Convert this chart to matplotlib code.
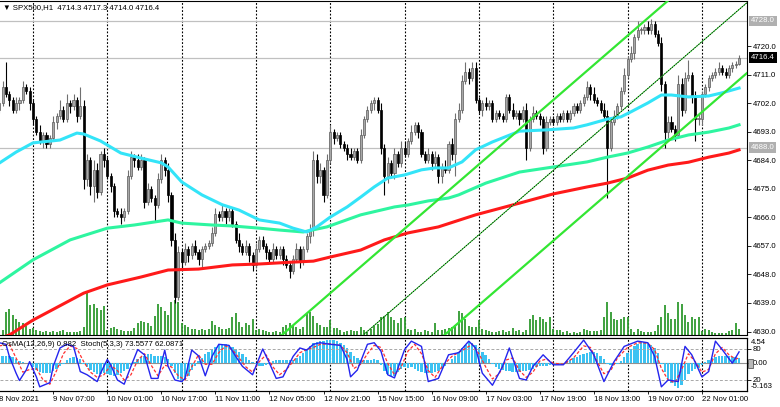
import numpy as np
import matplotlib.pyplot as plt
from matplotlib.transforms import blended_transform_factory as blend
from matplotlib.patches import Rectangle

plt.rcParams['font.family'] = ['Liberation Sans', 'DejaVu Sans']
FS = 5.6

# ---- SPX500 H1, 8 Nov 13:00 .. 22 Nov 12:00 (bars 01:00-22:00 each day) ----
day_names = ['8 Nov', '9 Nov', '10 Nov', '11 Nov', '12 Nov', '15 Nov',
             '16 Nov', '17 Nov', '18 Nov', '19 Nov', '22 Nov']

first_open = 4700.0
close = [
    4702, 4707, 4705, 4703, 4700, 4702, 4703, 4707, 4706, 4702,
    4697, 4693, 4690, 4692, 4689, 4691, 4696, 4698, 4700, 4697, 4702, 4701,
    4703, 4698, 4701, 4678, 4684, 4676, 4681, 4674, 4686, 4684,
    4679, 4676, 4668, 4667, 4666, 4668, 4679, 4685, 4684, 4682, 4684, 4671,
    4675, 4672, 4670, 4678, 4684, 4681, 4673, 4659, 4641, 4655,
    4652, 4656, 4654, 4657, 4655, 4653, 4656, 4657, 4658, 4661, 4667, 4666,
    4668, 4666, 4668, 4664, 4659, 4657, 4655, 4657, 4654, 4651,
    4656, 4659, 4657, 4655, 4653, 4656, 4654, 4656, 4653, 4651, 4649, 4653,
    4656, 4652, 4656, 4660, 4662, 4684, 4679, 4681, 4673, 4684,
    4693, 4691, 4692, 4689, 4688, 4686, 4685, 4687, 4684, 4692, 4697, 4700,
    4702, 4703, 4700, 4688, 4679, 4683, 4680, 4686, 4683, 4688,
    4686, 4690, 4693, 4695, 4693, 4686, 4684, 4686, 4683, 4685, 4679, 4682,
    4681, 4689, 4686, 4697, 4700, 4709, 4712, 4710, 4713, 4703,
    4700, 4702, 4701, 4702, 4697, 4699, 4698, 4697, 4704, 4700, 4698, 4699,
    4697, 4700, 4688, 4697, 4699, 4698, 4697, 4688, 4696, 4697,
    4696, 4698, 4697, 4699, 4697, 4699, 4701, 4700, 4702, 4704, 4707, 4705,
    4703, 4702, 4700, 4698, 4688, 4696, 4698, 4701, 4706, 4711,
    4716, 4718, 4723, 4725, 4725, 4726, 4725, 4727, 4724, 4721, 4708, 4693,
    4696, 4694, 4692, 4708, 4700, 4710, 4711, 4704, 4697, 4697,
    4705, 4707, 4710, 4711, 4712, 4713, 4712, 4711, 4713, 4714, 4714.3, 4716.4,
]
wick_up = [
    1, 2, 8, 1, 1, 2, 1, 2, 1, 1,
    1, 1, 2, 1, 1, 1, 2, 1, 3, 1, 3, 1, 2, 1, 6, 2, 2, 1, 3, 2, 1, 2,
    1, 1, 1, 1, 2, 1, 2, 2, 1, 2, 2, 1, 2, 1, 1, 2, 2, 1, 2, 1, 2, 2,
    1, 2, 1, 1, 2, 1, 1, 1, 1, 2, 2, 1, 2, 1, 1, 1, 1, 2, 1, 2, 1, 1,
    2, 1, 1, 1, 1, 2, 1, 1, 1, 1, 1, 1, 2, 1, 1, 1, 2, 3, 2, 2, 1, 2,
    2, 1, 1, 1, 1, 1, 2, 1, 1, 2, 1, 1, 1, 1, 1, 2, 1, 2, 1, 2, 1, 2,
    2, 1, 2, 1, 1, 1, 1, 2, 1, 2, 1, 1, 2, 1, 2, 2, 2, 2, 3, 1, 2, 2,
    1, 1, 2, 1, 1, 1, 1, 1, 1, 1, 2, 1, 1, 1, 2, 1, 2, 1, 1, 1, 2, 1,
    1, 1, 1, 1, 1, 1, 1, 1, 1, 1, 2, 1, 2, 1, 1, 2, 2, 1, 2, 1, 1, 2,
    1, 2, 1, 3, 1, 1, 2, 1.5, 1, 1, 2, 1, 2, 2, 1, 3, 2, 2, 4.5, 1, 2, 2,
    1, 1, 1, 1, 1, 2, 1, 1, 1, 1, 1, 0.9,
]
wick_dn = [
    1, 1, 1, 2, 1, 1, 2, 1, 1, 2,
    2, 1, 1, 2, 1, 1, 1, 2, 1, 1, 1, 2, 1, 2, 1, 3, 2, 3, 5, 2, 1, 2,
    1, 2, 2, 1, 2, 1, 1, 1, 2, 1, 1, 2, 1, 1, 5, 1, 1, 2, 2, 2, 2, 1,
    2, 1, 2, 1, 1, 2, 3, 1, 1, 1, 1, 1, 1, 2, 1, 1, 1, 2, 1, 1, 2, 2,
    1, 1, 1, 2, 1, 1, 1, 1, 2, 1, 2, 1, 1, 2, 1, 1, 2, 2, 2, 2, 2, 1,
    1, 2, 1, 1, 1, 2, 1, 1, 1, 1, 1, 1, 1, 2, 1, 2, 6, 2, 1, 2, 1, 1,
    1, 1, 1, 1, 2, 1, 1, 1, 2, 1, 2, 2, 1, 1, 2, 7, 1, 1, 1, 2, 1, 1,
    1, 2, 1, 1, 1, 1, 1, 1, 1, 1, 1, 1, 2, 1, 4, 1, 1, 1, 2, 2, 1, 1,
    1, 1, 1, 1, 1, 1, 1, 1, 1, 1, 1, 2, 1, 1, 1, 1, 16, 1, 1, 1, 1, 1,
    1, 1, 2, 1, 1, 1, 1, 1, 1, 1, 2, 5, 2, 1, 2, 1, 2, 1, 1, 2, 7, 2,
    2, 1, 1, 1, 1, 1, 1, 1, 1, 1, 1, 0.3,
]
volume = [
    4, 5, 23, 26, 20, 16, 13, 12, 9, 6,
    7, 5, 4, 3, 4, 3, 4, 3, 4, 5, 3, 3, 3, 3, 4, 8, 42, 30, 31, 27, 25, 29,
    5, 7, 8, 6, 5, 4, 4, 4, 7, 12, 14, 13, 12, 9, 19, 31, 28, 24, 20, 33, 35, 33,
    12, 10, 8, 6, 6, 5, 6, 5, 6, 14, 10, 8, 6, 6, 7, 18, 22, 13, 8, 12, 10, 16,
    5, 6, 5, 4, 3, 3, 4, 3, 8, 10, 12, 9, 8, 6, 8, 22, 23, 19, 12, 10, 8, 8,
    15, 7, 7, 5, 3, 4, 5, 4, 4, 8, 5, 3, 6, 9, 11, 18, 19, 23, 18, 15, 12, 17,
    18, 6, 5, 6, 3, 3, 5, 4, 3, 12, 5, 5, 6, 7, 8, 10, 24, 22, 16, 9, 8, 8,
    15, 6, 5, 4, 3, 3, 4, 5, 3, 4, 7, 4, 5, 3, 5, 16, 20, 15, 18, 16, 13, 18,
    6, 5, 5, 3, 4, 2, 3, 2, 3, 6, 5, 4, 4, 4, 5, 18, 33, 23, 16, 15, 16, 18,
    18, 6, 3, 6, 4, 3, 3, 3, 4, 10, 18, 30, 22, 16, 16, 33, 31, 20, 13, 18, 16, 18,
    4, 6, 5, 3, 2, 2, 2, 2, 4, 5, 12, 6,
]

# moving averages (bar index, price)
ma_cyan_bar = [0, 5, 10, 18, 23, 25, 30, 36, 42, 48, 50, 54, 60, 66, 71, 77, 83, 87,
               91, 94, 98, 103, 107, 111, 115, 120, 125, 129, 133, 137, 141, 146,
               154, 162, 170, 174, 180, 184, 187, 192, 196, 199, 204, 210, 214, 219]
ma_cyan_val = [4683.1, 4686.6, 4689.5, 4690.4, 4692.6, 4692.3, 4690.1, 4686.3, 4684.7,
               4683.2, 4681.9, 4677.2, 4673.1, 4670.0, 4668.3, 4665.2, 4664.2, 4662.6,
               4661.4, 4663.0, 4666.1, 4669.3, 4672.4, 4675.6, 4678.4, 4679.4, 4681.0,
               4681.6, 4681.6, 4683.5, 4687.3, 4689.8, 4693.2, 4693.6, 4694.2, 4695.2,
               4697.0, 4697.7, 4699.3, 4702.1, 4704.6, 4704.6, 4704.0, 4704.3, 4705.3, 4706.8]
ma_green_bar = [0, 10, 21, 32, 40, 50, 54, 63, 69, 77, 83, 90, 97, 107, 117, 121, 127,
                133, 136, 144, 154, 164, 174, 180, 186, 192, 198, 204, 210, 216, 219]
ma_green_val = [4645.3, 4652.6, 4658.9, 4662.6, 4663.6, 4665.2, 4664.2, 4663.6, 4663.3,
                4662.6, 4662.0, 4661.4, 4663.0, 4666.8, 4669.3, 4669.9, 4671.2, 4672.1,
                4673.1, 4676.8, 4680.3, 4681.9, 4683.5, 4685.0, 4686.3, 4688.2, 4690.4,
                4692.0, 4692.9, 4694.2, 4695.2]
ma_red_bar = [0, 3, 10, 25, 32, 42, 50, 59, 69, 77, 87, 93, 98, 107, 114, 121, 130, 141,
              154, 164, 174, 180, 186, 192, 198, 204, 210, 216, 219]
ma_red_val = [4627.8, 4628.9, 4633.6, 4642.1, 4644.7, 4647.2, 4649.4, 4649.7, 4651.0,
              4651.3, 4651.9, 4652.2, 4653.5, 4655.7, 4658.9, 4661.1, 4663.0, 4666.8,
              4670.5, 4673.4, 4675.6, 4676.8, 4678.4, 4680.9, 4682.5, 4683.4, 4685.0,
              4686.3, 4687.3]

# equidistant channel: upper line anchors + parallel offsets
chan_bar = [84, 198]
chan_upper = [4629.2, 4734.4]
chan_offset = [0.0, -22.2, -44.4]

h_levels = [4728.0, 4716.4, 4688.0]

# OsMA(12,26,9)
osma = [
    1.2, 1.3, 1.3, 1.2, 1.0, 0.6, 0.3, 0.1, -0.1, -0.3,
    -0.8, -1.3, -1.7, -1.9, -2.0, -1.9, -1.6, -1.2, -0.7, -0.2, 0.4, 0.8,
    1.0, 0.9, 0.6, -0.3, -0.9, -1.4, -1.8, -2.1, -2.2, -2.0,
    -2.1, -2.3, -2.4, -2.3, -2.0, -1.6, -1.1, -0.5, 0.1, 0.6, 1.0, 1.3,
    1.5, 1.5, 1.3, 1.2, 1.2, 1.0, 0.6, -0.6, -2.0, -3.1,
    -3.6, -3.2, -2.4, -1.4, -0.6, 0.2, 0.9, 1.5, 2.0, 2.5, 2.9, 3.2,
    3.4, 3.4, 3.2, 2.9, 2.5, 2.0, 1.5, 1.0, 0.5, 0.1,
    -0.3, -0.6, -0.7, -0.5, -0.2, 0.2, 0.4, 0.5, 0.5, 0.4, 0.4, 0.5,
    0.8, 1.2, 1.7, 2.3, 3.0, 3.6, 3.8, 3.9, 4.0, 4.1,
    4.2, 4.1, 3.9, 3.6, 3.2, 2.6, 1.9, 1.3, 0.8, 0.5, 0.4, 0.4,
    0.5, 0.6, 0.5, -0.4, -1.5, -2.2, -2.5, -2.4, -1.8, -1.2,
    -0.9, -1.0, -0.9, -1.1, -1.5, -1.8, -2.0, -2.0, -1.9, -1.8, -1.6, -1.2,
    -0.7, -0.1, 0.6, 1.3, 2.0, 2.7, 3.3, 3.8, 3.7, 3.2,
    2.6, 2.0, 1.4, 0.7, -0.2, -0.8, -1.2, -1.4, -1.5, -1.6, -1.7, -1.8,
    -1.7, -1.5, -1.6, -1.4, -1.1, -0.8, -0.6, -0.6, -0.7, -0.5,
    -0.3, -0.2, -0.1, 0.0, 0.2, 0.4, 0.8, 1.1, 1.4, 1.6, 1.8, 1.9,
    1.9, 1.7, 1.3, 0.6, -0.3, -0.5, -0.4, -0.2, 0.3, 1.0,
    1.8, 2.5, 3.1, 3.5, 3.8, 3.8, 3.6, 3.2, 2.6, 1.7, -0.2, -1.8,
    -3.0, -3.8, -4.4, -4.7, -4.2, -3.2, -2.2, -1.5, -1.2, -1.0,
    -0.5, 0.1, 0.5, 0.8, 1.0, 1.2, 1.3, 1.3, 1.2, 1.1, 1.0, 0.882,
]

# Stochastic(5,3,3): main and signal (bar index, value)
stoch_bar = [0, 2, 3, 5, 6, 8, 9, 11, 12, 15, 16, 18, 20, 22, 24, 26, 29, 30, 32, 33,
             35, 37, 39, 41, 43, 45, 47, 49, 50, 52, 54, 55, 57, 59, 61, 63, 65, 68,
             70, 72, 75, 78, 80, 82, 84, 87, 89, 91, 93, 95, 98, 101, 103, 104, 106,
             109, 111, 113, 115, 117, 120, 122, 125, 127, 130, 133, 136, 139, 141,
             143, 146, 149, 151, 154, 156, 158, 161, 163, 164, 167, 170, 173, 176,
             179, 182, 185, 189, 192, 194, 196, 198, 201, 203, 205, 208, 210, 212,
             214, 217, 219]
stoch_main = [91, 88, 65, 33, 19, 39, 55, 26, 7, 15, 46, 81, 88, 84, 36, 30, 17, 33, 59, 49,
              20, 12, 46, 78, 68, 23, 23, 77, 46, 20, 17, 23, 77, 66, 28, 65, 88, 86,
              65, 46, 30, 79, 52, 23, 26, 65, 81, 77, 88, 91, 88, 86, 59, 26, 39,
              88, 91, 75, 30, 24, 78, 94, 84, 17, 23, 68, 72, 94, 81,
              33, 10, 46, 81, 23, 20, 46, 68, 55, 49, 49, 72, 96, 68,
              17, 55, 84, 94, 91, 65, 7, 20, 17, 84, 68, 26, 36, 94,
              78, 52, 73.56]
sig_bar = [0, 3, 5, 7, 9, 11, 13, 15, 17, 19, 21, 23, 25, 27, 29, 31, 33, 35, 37, 39,
           41, 43, 45, 47, 49, 51, 53, 55, 57, 59, 61, 63, 65, 67, 69, 71, 73, 75, 77,
           79, 81, 83, 85, 87, 89, 91, 93, 95, 98, 101, 103, 105, 107, 109, 111, 113,
           115, 117, 119, 121, 123, 125, 127, 129, 131, 134, 137, 140, 142, 144, 146,
           148, 150, 152, 154, 156, 158, 160, 162, 164, 167, 170, 173, 175, 177, 179,
           181, 183, 186, 189, 192, 194, 196, 198, 200, 202, 204, 206, 208, 210, 212,
           214, 216, 218, 219]
sig_val = [85, 88, 62, 35, 40, 42, 20, 12, 38, 70, 85, 80, 55, 35, 25, 30, 48, 38, 20, 30,
           58, 70, 48, 28, 48, 45, 28, 20, 45, 68, 50, 50, 72, 85, 78, 62, 45, 35, 55,
           68, 45, 30, 40, 55, 72, 78, 82, 88, 89, 86, 72, 42, 50, 70, 86, 82,
           52, 30, 45, 75, 88, 70, 38, 25, 45, 65, 76, 88, 70, 45, 22,
           32, 58, 62, 38, 25, 35, 56, 60, 52, 50, 62, 85, 82, 55, 32,
           38, 62, 82, 91, 90, 78, 42, 20, 15, 40, 70, 55, 35, 40, 70,
           82, 68, 60, 62.09]

# ---------------------------------------------------------------------------
close = np.array(close, dtype=float)
n = len(close)
bars = np.arange(n)
opens = np.r_[first_open, close[:-1]]
highs = np.maximum(opens, close) + np.array(wick_up)
lows = np.minimum(opens, close) - np.array(wick_dn)

times = []
for k, d in enumerate(day_names):
    for h in range(13 if k == 0 else 1, 23):
        times.append((d, h))
times = times[:n]
day_start = [i for i, (d, h) in enumerate(times) if h == 1]
lab_bars = list(range(0, n, 16))
lab_text = ['8 Nov 2021' if i == 0 else '%s %02d:00' % times[i] for i in lab_bars]

W, H = 780, 407
fig = plt.figure(figsize=(W / 100, H / 100), dpi=100)
fig.patch.set_facecolor('white')


def px_box(x0, y0, x1, y1):
    return [x0 / W, 1 - y1 / H, (x1 - x0) / W, (y1 - y0) / H]


ax = fig.add_axes(px_box(0, 1, 746.5, 335))
axi = fig.add_axes(px_box(0, 338, 746.5, 390.5))
XL = (0.24, 221.2)

# main chart
ax.set_xlim(*XL)
ax.set_ylim(4628.9, 4734.26)
for i in day_start:
    ax.axvline(i, color='black', lw=0.8, ls=(0, (1.6, 1.6)), zorder=1)
for p in h_levels:
    ax.axhline(p, color='#c0c0c0', lw=0.9, zorder=1)

ax.vlines(bars, 0, np.array(volume) / 334.0, transform=blend(ax.transData, ax.transAxes),
          color='#2f9a2f', lw=1.3, zorder=2)

up = close >= opens
body_lo = np.minimum(opens, close)
body_h = np.maximum(np.abs(close - opens), 0.3)
ax.vlines(bars[up], lows[up], highs[up], color='#707070', lw=0.8, zorder=3)
ax.vlines(bars[~up], lows[~up], highs[~up], color='black', lw=0.8, zorder=3)
ax.bar(bars[up], body_h[up], bottom=body_lo[up], width=0.62, color='#a8a8a8',
       edgecolor='#5a5a5a', lw=0.5, zorder=4)
ax.bar(bars[~up], body_h[~up], bottom=body_lo[~up], width=0.62, color='black',
       edgecolor='black', lw=0.5, zorder=4)

ax.plot(ma_red_bar, ma_red_val, color='#ff1a1a', lw=2.2, zorder=5)
ax.plot(ma_green_bar, ma_green_val, color='#2ef5a0', lw=2.2, zorder=5)
ax.plot(ma_cyan_bar, ma_cyan_val, color='#33e4f8', lw=2.2, zorder=5)

slope = (chan_upper[1] - chan_upper[0]) / (chan_bar[1] - chan_bar[0])
cx = np.array([40.0, 225.0])
for k, off in enumerate(chan_offset):
    cy = chan_upper[0] + off + slope * (cx - chan_bar[0])
    if k == 1:
        ax.plot(cx, cy, color='#33dd33', lw=0.7, zorder=6)
        ax.plot(cx, cy, color='black', lw=0.6, ls=(0, (1.5, 1.5)), zorder=6)
    else:
        ax.plot(cx, cy, color='#33e633', lw=1.6, zorder=6)

ax.yaxis.tick_right()
ax.set_yticks(np.arange(4630, 4721, 9))
ax.set_yticklabels(['%.1f' % v for v in np.arange(4630, 4721, 9)])
ax.tick_params(axis='y', direction='out', length=3, width=0.6, labelsize=FS, pad=1.5)
ax.set_xticks([])
ax.spines['left'].set_visible(False)
for s in ('top', 'right', 'bottom'):
    ax.spines[s].set_linewidth(0.8)

ytr = blend(ax.transAxes, ax.transData)
for p, fc in zip(h_levels, ['#b0b0b0', 'black', '#b0b0b0']):
    ax.text(1 + 4.5 / 746.5, p, '%.1f' % p, transform=ytr, ha='left', va='center',
            fontsize=FS, color='white', clip_on=False, zorder=10,
            bbox=dict(boxstyle='square,pad=0.22', fc=fc, ec='none'))

fig.text(3 / W, 1 - 8 / H, '\u25bc SPX500,H1  4714.3 4717.3 4714.0 4716.4',
         fontsize=FS, va='center', ha='left')

# indicator window: OsMA histogram + stochastic on a twin scale
axi.set_xlim(*XL)
axi.set_ylim(-5.163, 4.54)
for i in day_start:
    axi.axvline(i, color='black', lw=0.8, ls=(0, (1.6, 1.6)), zorder=1)
axi.axhline(0, color='#909090', lw=0.8, zorder=1)
axi.bar(bars, osma, width=0.72, color='#3cc2f2', zorder=2)
axi.set_xticks(lab_bars)
axi.set_xticklabels([])
axi.tick_params(axis='x', direction='out', length=2.5, width=0.6)

axs = axi.twinx()
axs.set_xlim(*XL)
axs.set_ylim(0, 100)
for lv in (80, 20):
    axs.axhline(lv, color='#a8a8a8', lw=0.7, ls=(0, (3, 2)), zorder=1)
axs.plot(sig_bar, sig_val, color='#ff3030', lw=0.9, ls=(0, (2.5, 1.5)), zorder=3)
axs.plot(stoch_bar, stoch_main, color='#2424ee', lw=1.0, zorder=4)
axs.set_yticks([20, 80])
axs.set_yticklabels(['20', '80'])
axs.tick_params(axis='y', direction='out', length=3, width=0.6, labelsize=FS, pad=1.5)

# twinx() moved the OsMA ticks to the left; put them back on the right
axi.yaxis.tick_right()
axi.set_yticks([0])
axi.set_yticklabels(['0.00'])
axi.tick_params(axis='y', direction='out', length=3, width=0.6, labelsize=FS, pad=1.5)
axi.spines['left'].set_visible(False)
axs.spines['left'].set_visible(False)

itr = axi.transAxes
axi.text(1 + 4.5 / 746.5, (390.5 - 343) / 52.5, '4.54', transform=itr, fontsize=FS,
         va='center', ha='left', clip_on=False)
axi.text(1 + 4.5 / 746.5, (390.5 - 386.5) / 52.5, '-5.163', transform=itr, fontsize=FS,
         va='center', ha='left', clip_on=False)
fig.patches.append(Rectangle((748 / W, 1 - 367.5 / H), 5 / W, 9 / H,
                             transform=fig.transFigure, fc='#b8b8b8', ec='#404040',
                             lw=0.5, zorder=0.5))
fig.text(2 / W, 1 - 345 / H, 'OsMA(12,26,9) 0.882  Stoch(5,3,3) 73.5577 62.0871',
         fontsize=FS, va='center', ha='left')

xtr = blend(axi.transData, axi.transAxes)
for i, t in zip(lab_bars, lab_text):
    axi.text(i, -0.18, t, transform=xtr, fontsize=FS, ha='left', va='center',
             clip_on=False)

fig.savefig('out.png', dpi=100, facecolor='white')
